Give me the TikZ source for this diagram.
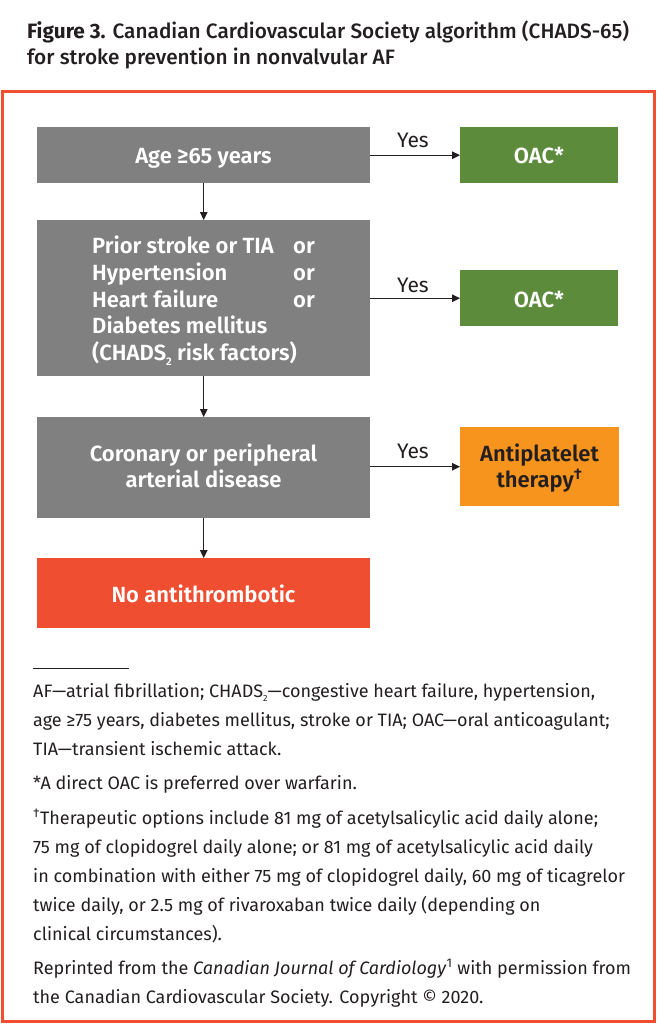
\documentclass[tikz,border=0pt]{standalone}
\usepackage{fontspec}
\setmainfont{Fira Sans}[BoldFont={Fira Sans SemiBold}]
\newfontfamily\medfont{Fira Sans Medium}[BoldFont={Fira Sans Bold}]
\usetikzlibrary{arrows.meta}
\definecolor{boxgray}{RGB}{128,128,128}
\definecolor{oacgreen}{RGB}{91,139,59}
\definecolor{aporange}{RGB}{247,148,29}
\definecolor{nored}{RGB}{240,78,48}
\definecolor{ink}{RGB}{35,31,32}
\newcommand{\lowtwo}[1]{\raisebox{-0.45ex}{\fontsize{#1}{#1}\selectfont 2}}
\tikzset{
  flowbox/.style={draw=none, inner sep=0pt, anchor=north west},
  boxtxt/.style={anchor=base, inner sep=0pt, text=white, font=\fontsize{22}{26}\selectfont\bfseries},
  yeslbl/.style={anchor=base, inner sep=0pt, text=ink, font=\fontsize{21}{26}\selectfont},
  fn/.style={anchor=base west, inner sep=0pt, text=ink, font=\fontsize{18}{29}\selectfont},
  ttl/.style={anchor=base west, inner sep=0pt, text=ink, font=\fontsize{20.8}{26}\selectfont\medfont},
  arr/.style={draw=ink, line width=1.3pt, -{Triangle[length=8pt,width=7.5pt]}}
}
\begin{document}
\begin{tikzpicture}[x=1pt,y=-1pt]
\useasboundingbox (0,0) rectangle (657,1026);
% title
\node[ttl] (t1) at (27,38) {\textbf{Figure 3.} Canadian Cardiovascular Society algorithm (CHADS-65)};
\node[ttl] (t2) at (27,64) {for stroke prevention in nonvalvular AF};
% frame
\draw[nored, line width=3pt] (2.5,91) rectangle (654.5,1021.5);
% boxes
\node[flowbox, fill=boxgray, minimum width=333pt, minimum height=56pt] (b1) at (37,127) {};
\node[flowbox, fill=oacgreen, minimum width=158pt, minimum height=56pt] (o1) at (460,127) {};
\node[flowbox, fill=boxgray, minimum width=333pt, minimum height=156pt] (b2) at (37,220) {};
\node[flowbox, fill=oacgreen, minimum width=158pt, minimum height=56pt] (o2) at (460,270) {};
\node[flowbox, fill=boxgray, minimum width=333pt, minimum height=101pt] (b3) at (37,417) {};
\node[flowbox, fill=aporange, minimum width=159pt, minimum height=79pt] (ap) at (460,427) {};
\node[flowbox, fill=nored, minimum width=333pt, minimum height=70pt] (nr) at (37,558) {};
% box texts
\node[boxtxt] (b1t) at (203.5,163) {Age ≥65 years};
\node[boxtxt] (o1t) at (539,163) {OAC*};
\node[boxtxt, anchor=base west] (b2t1) at (92,253) {Prior stroke or TIA};
\node[boxtxt, anchor=base west] (b2t2) at (92,280) {Hypertension};
\node[boxtxt, anchor=base west] (b2t3) at (92,307) {Heart failure};
\node[boxtxt, anchor=base west] (b2t4) at (92,333) {Diabetes mellitus};
\node[boxtxt, anchor=base west] (b2t5) at (92,360) {(CHADS\lowtwo{11} risk factors)};
\node[boxtxt, anchor=base west] (or1) at (293,253) {or};
\node[boxtxt, anchor=base west] (or2) at (293,280) {or};
\node[boxtxt, anchor=base west] (or3) at (293,307) {or};
\node[boxtxt] (o2t) at (539,307) {OAC*};
\node[boxtxt] (b3t1) at (203.5,461) {Coronary or peripheral};
\node[boxtxt] (b3t2) at (203.5,487) {arterial disease};
\node[boxtxt, text=ink] (apt1) at (539.5,461) {Antiplatelet};
\node[boxtxt, text=ink] (apt2) at (539.5,487) {therapy\textsuperscript{†}};
\node[boxtxt] (nrt) at (203.5,602) {No antithrombotic};
% arrows
\draw[arr] (b1.east) -- (o1.west);
\draw[arr] (b2.east |- o2.west) -- (o2.west);
\draw[arr] (b3.east |- ap.west) -- (ap.west);
\draw[arr] (b1.south) -- (b2.north);
\draw[arr] (b2.south) -- (b3.north);
\draw[arr] (b3.south) -- (nr.north);
\node[yeslbl] (y1) at (413,147) {Yes};
\node[yeslbl] (y2) at (413,292) {Yes};
\node[yeslbl] (y3) at (413,458) {Yes};
% footnotes
\coordinate (r1) at (33,668);
\coordinate (r2) at (129,668);
\draw[ink, line width=0.6pt] (r1) -- (r2);
\node[fn] (f1) at (33,697) {AF—atrial fibrillation; CHADS\lowtwo{9}—congestive heart failure, hypertension,};
\node[fn] (f2) at (33,726) {age ≥75 years, diabetes mellitus, stroke or TIA; OAC—oral anticoagulant;};
\node[fn] (f3) at (33,755) {TIA—transient ischemic attack.};
\node[fn] (f4) at (33,789) {*A direct OAC is preferred over warfarin.};
\node[fn] (f5) at (33,824) {\textsuperscript{†}Therapeutic options include 81 mg of acetylsalicylic acid daily alone;};
\node[fn] (f6) at (33,853) {75 mg of clopidogrel daily alone; or 81 mg of acetylsalicylic acid daily};
\node[fn] (f7) at (33,882) {in combination with either 75 mg of clopidogrel daily, 60 mg of ticagrelor};
\node[fn] (f8) at (33,911) {twice daily, or 2.5 mg of rivaroxaban twice daily (depending on};
\node[fn] (f9) at (33,940) {clinical circumstances).};
\node[fn] (f10) at (33,974) {Reprinted from the \textit{Canadian Journal of Cardiology}\textsuperscript{1} with permission from};
\node[fn] (f11) at (33,1003) {the Canadian Cardiovascular Society. Copyright © 2020.};
\end{tikzpicture}
\end{document}
